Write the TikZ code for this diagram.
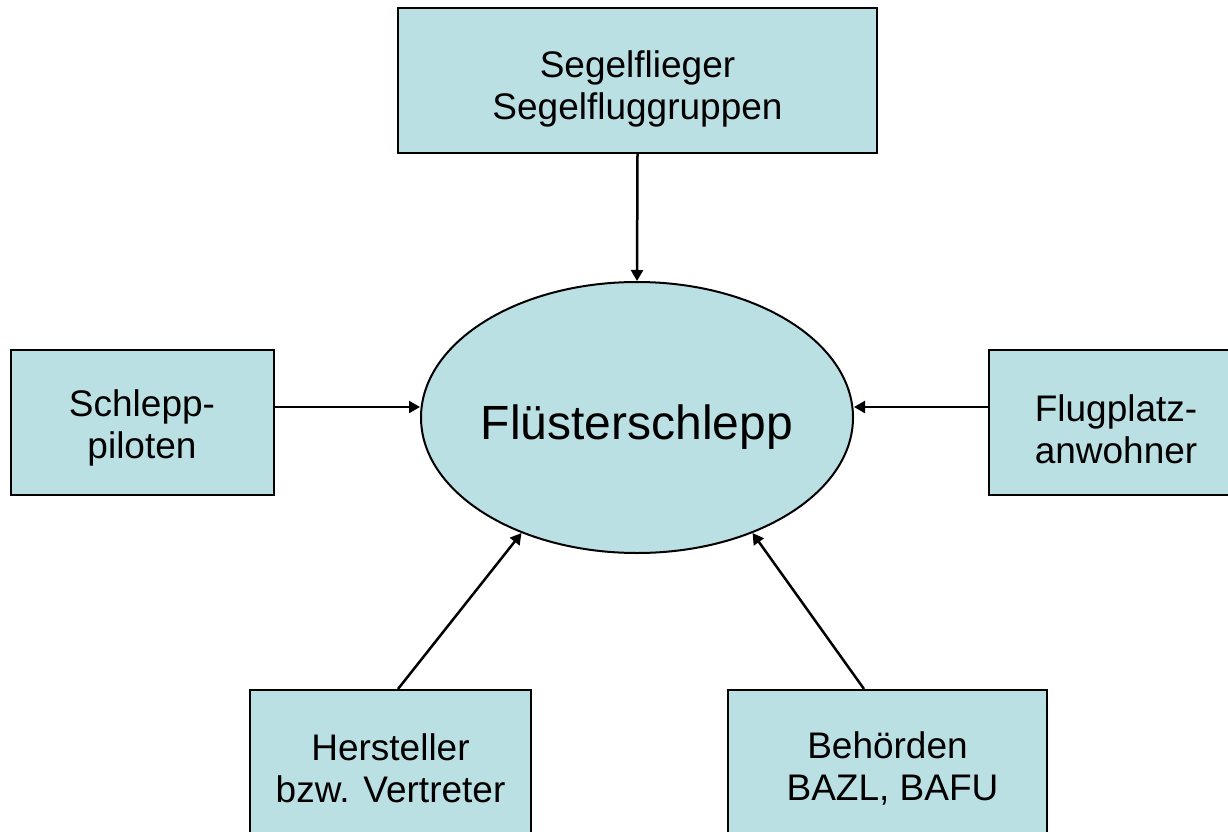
\documentclass[tikz,border=0pt]{standalone}
\usepackage{fontspec}
\setmainfont{Liberation Sans}
\usetikzlibrary{shapes.geometric,arrows.meta,calc}
\definecolor{boxfill}{RGB}{187,224,227}
\newcommand{\lowerby}[1]{\rule{0pt}{#1}}
\begin{document}
\begin{tikzpicture}[x=1pt,y=-1pt,
  boxnode/.style={draw=black,line width=2pt,fill=boxfill,rectangle,inner sep=0pt,
    align=center,font=\fontsize{37}{42}\selectfont},
  mainnode/.style={draw=black,line width=2pt,fill=boxfill,ellipse,inner sep=0pt,
    minimum width=432pt,minimum height=271pt,font=\fontsize{48}{52}\selectfont},
  conn/.style={line width=2.5pt,-{Triangle[length=11pt,width=12pt]}}]
\clip (0,0) rectangle (1228,832);
\fill[white] (0,0) rectangle (1228,832);
\node[mainnode] (fl) at (637,417.5) {\raisebox{-22pt}[0pt][0pt]{\makebox[0pt]{Flüsterschlepp}}};
\node[boxnode,minimum width=479pt,minimum height=145pt] (seg) at (637.5,80.5) {\lowerby{43pt}Segelflieger\\Segelfluggruppen};
\node[boxnode,minimum width=263pt,minimum height=145pt] (sch) at (142,422) {\lowerby{39pt}Schlepp-\\piloten};
\node[boxnode,minimum width=254pt,minimum height=145pt] (flp) at (1116,422) {\lowerby{41pt}Flugplatz-\\anwohner};
\node[boxnode,minimum width=281pt,minimum height=156pt] (her) at (390.5,768) {Hersteller\\bzw. Vertreter};
\node[boxnode,minimum width=319pt,minimum height=156pt] (beh) at (887.5,768) {Behörden\\\hspace*{10pt}BAZL, BAFU};
\draw[conn] (seg.south) -- (fl.north);
\draw[conn] (sch.east |- 0,407) -- (fl.west |- 0,407);
\draw[conn] (flp.west |- 0,407) -- (fl.east |- 0,407);
\draw[conn] ([xshift=7.5pt]her.north) -- (fl.225);
\draw[conn] ([xshift=-23.5pt]beh.north) -- (fl.315);
\end{tikzpicture}
\end{document}
